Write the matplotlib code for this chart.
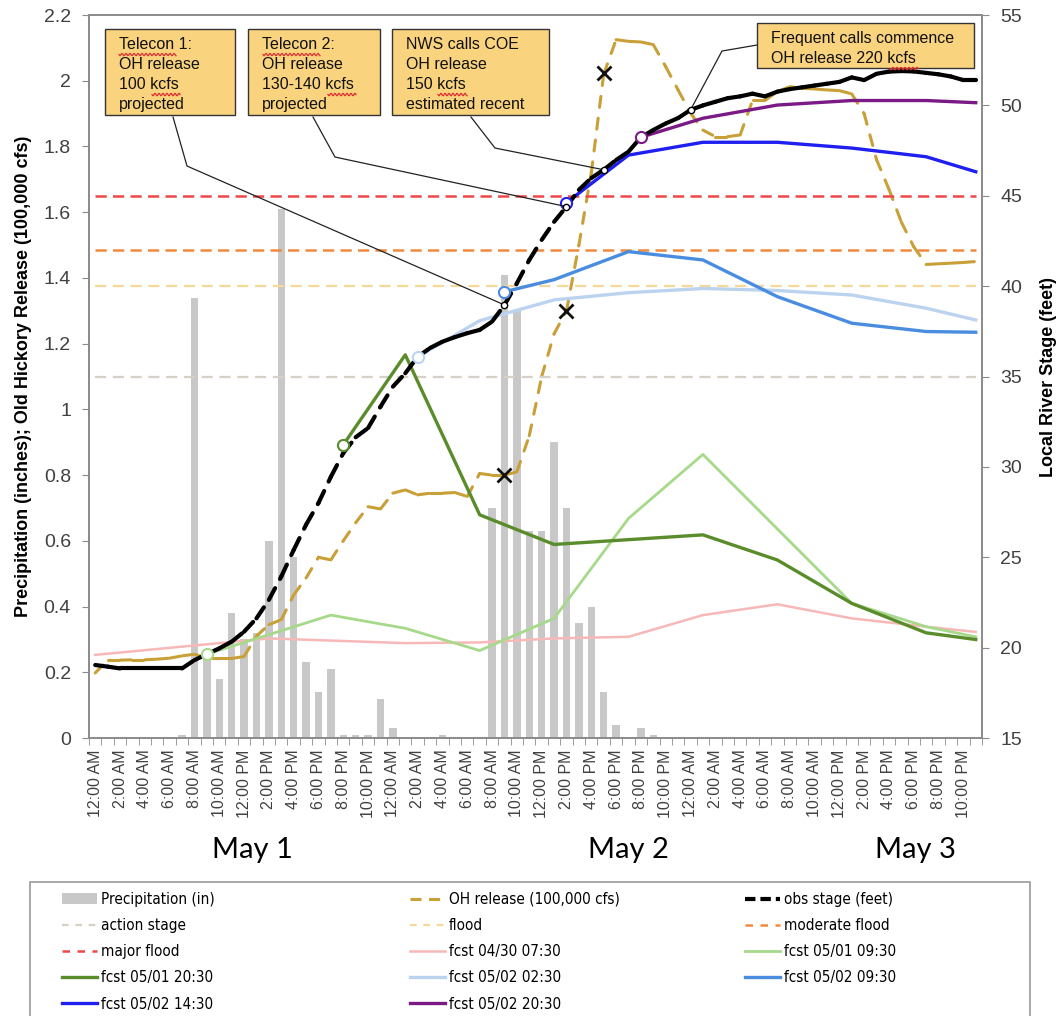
import numpy as np
import matplotlib
matplotlib.use('Agg')
import matplotlib.pyplot as plt
from matplotlib.collections import LineCollection
from matplotlib.lines import Line2D
from matplotlib.patches import Patch, Rectangle

plt.rcParams['font.family'] = ['Liberation Sans', 'DejaVu Sans']

# hourly categories, 12:00 AM May 1 .. 11:00 PM May 3
hours = np.arange(72)
day_ticks = ['12:00 AM', '2:00 AM', '4:00 AM', '6:00 AM', '8:00 AM', '10:00 AM',
             '12:00 PM', '2:00 PM', '4:00 PM', '6:00 PM', '8:00 PM', '10:00 PM']
tick_labels = day_ticks * 3
day_labels = ['May 1', 'May 2', 'May 3']

# precipitation (in)
precip = [0, 0, 0, 0, 0, 0, 0, 0.01, 1.34, 0.25, 0.18, 0.38,
          0.30, 0.32, 0.60, 1.61, 0.55, 0.23, 0.14, 0.21, 0.01, 0.01, 0.01, 0.12,
          0.03, 0, 0, 0, 0.01, 0, 0, 0, 0.70, 1.41, 1.30, 0.63,
          0.63, 0.90, 0.70, 0.35, 0.40, 0.14, 0.04, 0, 0.03, 0.01, 0, 0,
          0, 0, 0, 0, 0, 0, 0, 0, 0, 0, 0, 0,
          0, 0, 0, 0, 0, 0, 0, 0, 0, 0, 0, 0]

# Old Hickory release (100,000 cfs)
oh_release = [0.198, 0.237, 0.237, 0.238, 0.238, 0.240, 0.243, 0.250, 0.255, 0.242, 0.242, 0.242,
              0.248, 0.310, 0.345, 0.360, 0.435, 0.487, 0.550, 0.542, 0.600, 0.655, 0.704, 0.697,
              0.745, 0.755, 0.740, 0.745, 0.745, 0.747, 0.735, 0.805, 0.800, 0.800, 0.810, 0.920,
              1.100, 1.230, 1.300, 1.500, 1.720, 2.020, 2.125, 2.120, 2.118, 2.110, 2.043, 1.972,
              1.902, 1.850, 1.830, 1.830, 1.835, 1.940, 1.940, 1.967, 1.982, 1.977, 1.975, 1.972,
              1.970, 1.960, 1.900, 1.760, 1.670, 1.570, 1.495, 1.441, 1.443, 1.445, 1.447, 1.450]
release_x_hours = [33, 38, 41]
release_x_values = [0.80, 1.30, 2.025]

# observed stage (feet)
obs_stage = [19.04, 18.95, 18.85, 18.85, 18.85, 18.85, 18.85, 18.85, 19.31, 19.64, 19.96, 20.33,
             20.88, 21.62, 22.64, 23.93, 25.40, 26.80, 28.00, 29.45, 30.76, 31.64, 32.15, 33.33,
             34.44, 35.18, 36.09, 36.58, 36.93, 37.18, 37.40, 37.58, 38.04, 38.96, 40.16, 41.45,
             42.56, 43.56, 44.40, 45.33, 45.98, 46.44, 46.98, 47.44, 48.24, 48.64, 49.00, 49.30,
             49.75, 50.00, 50.20, 50.40, 50.50, 50.65, 50.50, 50.76, 50.90, 51.00, 51.10, 51.20,
             51.30, 51.55, 51.40, 51.75, 51.87, 51.90, 51.88, 51.80, 51.72, 51.60, 51.40, 51.40]

# flood categories (feet)
action_stage = 35
flood_stage = 40
moderate_stage = 42
major_stage = 45

# forecasts (feet)
f0430_h = [0, 14, 25, 31, 37, 43, 49, 55, 61, 67, 71]
f0430_v = [19.60, 20.51, 20.25, 20.29, 20.51, 20.60, 21.80, 22.40, 21.62, 21.16, 20.87]
f0501a_h = [9, 19, 25, 31, 37, 43, 49, 61, 67, 71]
f0501a_v = [19.64, 21.80, 21.07, 19.84, 21.62, 27.15, 30.69, 22.45, 21.16, 20.60]
f0501b_h = [20, 25, 31, 37, 49, 55, 61, 67, 71]
f0501b_v = [31.22, 36.20, 27.35, 25.71, 26.24, 24.85, 22.45, 20.82, 20.45]
f0502a_h = [26, 31, 37, 43, 49, 55, 61, 67, 71]
f0502a_v = [36.09, 38.09, 39.24, 39.64, 39.87, 39.76, 39.51, 38.78, 38.13]
f0502b_h = [33, 37, 43, 49, 55, 61, 67, 71]
f0502b_v = [39.69, 40.36, 41.91, 41.45, 39.42, 37.95, 37.49, 37.45]
f0502c_h = [38, 43, 49, 55, 61, 67, 71]
f0502c_v = [44.62, 47.25, 47.96, 47.96, 47.64, 47.16, 46.33]
f0502d_h = [44, 49, 55, 61, 67, 71]
f0502d_v = [48.24, 49.29, 50.02, 50.27, 50.27, 50.15]

GOLD = '#c9a037'
GRID_GRAY = '#8c8c8c'
TXT = '#404040'

fig = plt.figure(figsize=(10.61, 10.16), dpi=100)
ax = fig.add_axes([0.0839, 0.2736, 0.8416, 0.7116])
ax2 = ax.twinx()


def dashed_segments(axis, xs, ys, color, lw, dash, z):
    # Excel restarts the dash pattern on every segment, so short flat pieces look solid
    pts = np.column_stack([xs, ys])
    segs = np.stack([pts[:-1], pts[1:]], axis=1)
    lc = LineCollection(segs, colors=color, linewidths=lw, linestyles=[(0, dash)],
                        capstyle='round', joinstyle='round', zorder=z)
    axis.add_collection(lc)


# precipitation bars + release on the left axis
ax.bar(hours, precip, width=0.6, color='#c8c8c8', zorder=1)
dashed_segments(ax, hours, oh_release, GOLD, 2.2, (3.6, 3.6), 3)
ax.plot(release_x_hours, release_x_values, 'x', color='#111111', ms=10, mew=2, zorder=4)

# stage lines on the right axis
ax2.plot(hours, [action_stage] * 72, color='#d6d0c6', lw=1.6, dashes=(5, 3))
ax2.plot(hours, [flood_stage] * 72, color='#f6d99a', lw=1.6, dashes=(5, 3))
ax2.plot(hours, [moderate_stage] * 72, color='#f08a3c', lw=1.8, dashes=(4.5, 2.5))
ax2.plot(hours, [major_stage] * 72, color='#ee4848', lw=1.8, dashes=(4.5, 2.5))

fcsts = [
    (f0430_h, f0430_v, '#f7b8b8', 1.8, False),
    (f0501a_h, f0501a_v, '#a6d98a', 2.0, True),
    (f0501b_h, f0501b_v, '#5a8c2c', 2.4, True),
    (f0502a_h, f0502a_v, '#bcd3f0', 2.4, True),
    (f0502b_h, f0502b_v, '#4a8de0', 2.4, True),
    (f0502c_h, f0502c_v, '#1f1ff0', 2.4, True),
    (f0502d_h, f0502d_v, '#7b1a86', 2.4, True),
]
for fh, fv, col, lw, start in fcsts:
    ax2.plot(fh, fv, color=col, lw=lw, zorder=3)
    if start:
        ax2.plot(fh[0], fv[0], 'o', mfc='white', mec=col, ms=8, mew=1.5, zorder=6)

dashed_segments(ax2, hours, obs_stage, 'black', 3.0, (3.2, 2.5), 5)

# axes styling
ax.set_xlim(-0.5, 71.5)
ax.set_ylim(0, 2.2)
ax2.set_ylim(15, 55)
left_ticks = np.round(np.arange(0, 2.21, 0.2), 1)
ax.set_yticks(left_ticks)
ax.set_yticklabels([f'{v:g}' for v in left_ticks])
ax2.set_yticks(np.arange(15, 56, 5))
ax.set_xticks(hours[::2])
ax.set_xticklabels(tick_labels, rotation=90, fontsize=11.5, color=TXT)
ax.set_xticks(np.arange(-0.5, 72, 1), minor=True)
ax.tick_params(axis='x', which='major', length=0, pad=8)
ax.tick_params(axis='x', which='minor', length=5, color=GRID_GRAY)
ax.tick_params(axis='y', labelsize=14, labelcolor=TXT, color=GRID_GRAY, length=5, pad=8)
ax2.tick_params(axis='y', labelsize=14, labelcolor=TXT, color=GRID_GRAY, length=5, pad=8)
for a in (ax, ax2):
    for s in a.spines.values():
        s.set_color(GRID_GRAY)
        s.set_linewidth(1.3)

ax.set_ylabel('Precipitation (inches); Old Hickory Release (100,000 cfs)',
              fontsize=13, fontweight='bold', va='center')
ax.yaxis.set_label_coords(-0.073, 0.5)
ax2.set_ylabel('Local River Stage (feet)', fontsize=13, fontweight='bold',
               va='center', rotation=90)
ax2.yaxis.set_label_coords(1.074, 0.5)

# day labels
for lab, xp in zip(day_labels, [252, 628, 915]):
    fig.text(xp / 1061, 1 - 850 / 1016, lab, ha='center', va='center',
             fontsize=21, family=['Lato', 'DejaVu Sans'])


# call-out boxes (pixel layout converted to axes fraction)
def fx(xp):
    return (xp - 89) / 893


def fy(yp):
    return (738 - yp) / 723


boxes = [
    ((105, 29, 235, 115), 'Telecon 1:\nOH release\n100 kcfs\nprojected'),
    ((248, 29, 380, 115), 'Telecon 2:\nOH release\n130-140 kcfs\nprojected'),
    ((392, 29, 549, 115), 'NWS calls COE\nOH release\n150 kcfs\nestimated recent'),
    ((757, 23, 974, 68), 'Frequent calls commence\nOH release 220 kcfs'),
]
for (x0, y0, x1, y1), txt in boxes:
    ax2.add_patch(Rectangle((fx(x0), fy(y1)), fx(x1) - fx(x0), fy(y0) - fy(y1),
                            transform=ax2.transAxes, facecolor='#fad37f',
                            edgecolor='#333333', lw=1, zorder=8))
    ax2.text(fx(x0 + 14), fy(y0 + 8), txt, transform=ax2.transAxes, ha='left', va='top',
             fontsize=11.5, color='#111111', linespacing=1.42, zorder=9)

# spell-check squiggles under "Telecon" and "kcfs", as on the slide
squiggles = [(119, 176, 54.5), (263, 320, 54.5), (152, 180, 94.5), (328, 356, 94.5),
             (438, 467, 94.5), (890, 918, 68.5)]
for x0, x1, yc in squiggles:
    xs = np.linspace(x0, x1, 60)
    ys = yc + 1.2 * np.sin((xs - x0) * 2 * np.pi / 4.0)
    ax2.plot(fx(xs), fy(ys), color='#e03030', lw=0.9, transform=ax2.transAxes, zorder=10)

pointers = [((173, 117), (187, 166), 33), ((313, 117), (335, 157), 38),
            ((471, 117), (495, 148), 41), ((757, 45), (722, 51), 48)]
for p0, p1, h in pointers:
    xs = [-0.5 + fx(p0[0]) * 72, -0.5 + fx(p1[0]) * 72, h]
    ys = [15 + fy(p0[1]) * 40, 15 + fy(p1[1]) * 40, obs_stage[h]]
    ax2.plot(xs, ys, color='#222222', lw=0.9, zorder=7)
    ax2.plot(h, obs_stage[h], 'o', mfc='white', mec='black', ms=4.5, mew=1, zorder=7)

# legend: frame cut by the bottom edge, three columns like the original
fig.add_artist(Rectangle((30 / 1061, -0.05), 1000 / 1061, 0.05 + 1 - 882 / 1016,
                         transform=fig.transFigure, fill=False, edgecolor='#9a9a9a', lw=1.2))
handles = [
    Patch(facecolor='#c8c8c8'),
    Line2D([], [], color=GOLD, lw=2.2, dashes=(3.6, 2.5)),
    Line2D([], [], color='black', lw=3, dashes=(2.5, 1.2)),
    Line2D([], [], color='#d6d0c6', lw=1.6, dashes=(3, 3)),
    Line2D([], [], color='#f6d99a', lw=1.6, dashes=(3, 3)),
    Line2D([], [], color='#f08a3c', lw=1.8, dashes=(3, 3)),
    Line2D([], [], color='#ee4848', lw=1.8, dashes=(3, 3)),
] + [Line2D([], [], color=c, lw=w) for _, _, c, w, _ in fcsts]
labels = ['Precipitation (in)', 'OH release (100,000 cfs)', 'obs stage (feet)',
          'action stage', 'flood', 'moderate flood', 'major flood',
          'fcst 04/30 07:30', 'fcst 05/01 09:30', 'fcst 05/01 20:30',
          'fcst 05/02 02:30', 'fcst 05/02 09:30', 'fcst 05/02 14:30', 'fcst 05/02 20:30']
col_x = [62, 410, 745]
for c in range(3):
    idx = list(range(c, len(labels), 3))
    fig.legend([handles[i] for i in idx], [labels[i] for i in idx],
               loc='upper left', bbox_to_anchor=(col_x[c] / 1061, 1 - 892 / 1016),
               frameon=False, borderpad=0, borderaxespad=0, handlelength=2.3,
               handletextpad=0.25, labelspacing=0.73,
               prop={'family': 'DejaVu Sans', 'stretch': 'condensed', 'size': 11})

fig.savefig('out.png', dpi=100)
